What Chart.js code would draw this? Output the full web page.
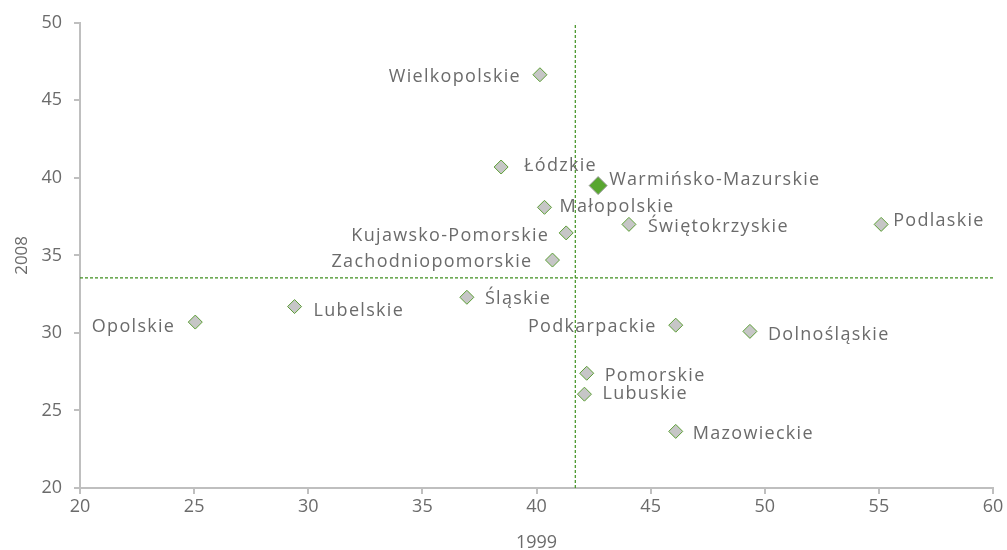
<!DOCTYPE html>
<html>
<head>
<meta charset="utf-8">
<script src="https://cdn.jsdelivr.net/npm/chart.js@4"></script>
<style>
  html, body { margin: 0; padding: 0; background: #fff; }
  #wrap { width: 1007px; height: 550px; position: relative; }
</style>
</head>
<body>
<div id="wrap"><canvas id="chart"></canvas></div>
<script>
// regions and their values in 1999 (x) and 2008 (y)
const regions = ['Wielkopolskie', 'Łódzkie', 'Warmińsko-Mazurskie', 'Małopolskie', 'Świętokrzyskie',
  'Podlaskie', 'Kujawsko-Pomorskie', 'Zachodniopomorskie', 'Śląskie', 'Lubelskie', 'Opolskie',
  'Podkarpackie', 'Dolnośląskie', 'Pomorskie', 'Lubuskie', 'Mazowieckie'];
const x1999 = [40.15, 38.45, 42.7, 40.35, 44.05, 55.1, 41.3, 40.7, 36.95, 29.4, 25.05, 46.1, 49.35, 42.2, 42.1, 46.1];
const y2008 = [46.65, 40.7, 39.5, 38.1, 37.0, 37.0, 36.45, 34.7, 32.3, 31.7, 30.7, 30.5, 30.1, 27.4, 26.05, 23.65];
const highlight = 'Warmińsko-Mazurskie';

// averages (dashed lines)
const avg1999 = 41.7;
const avg2008 = 33.55;

const xTicks = [20, 25, 30, 35, 40, 45, 50, 55, 60];
const yTicks = [20, 25, 30, 35, 40, 45, 50];

// where each label sits relative to its marker: [dx, dy] in px, negative dx = left side
const labelPlacement = {
  'Wielkopolskie': [-19, 2], 'Łódzkie': [23, -1], 'Warmińsko-Mazurskie': [11, -6],
  'Małopolskie': [15, 0], 'Świętokrzyskie': [19, 2], 'Podlaskie': [12, -4],
  'Kujawsko-Pomorskie': [-17, 3], 'Zachodniopomorskie': [-20, 2], 'Śląskie': [18, 2],
  'Lubelskie': [19, 4], 'Opolskie': [-20, 5], 'Podkarpackie': [-19, 2],
  'Dolnośląskie': [18, 3], 'Pomorskie': [18, 3], 'Lubuskie': [18, 0], 'Mazowieckie': [17, 2]
};

const FONT = '"Open Sans", sans-serif';
const TEXT = '#6b6b6b';
const AXIS = '#bfbfbf';
const GREEN_LINE = '#3f8f1f';

const points = regions.map((r, i) => ({ x: x1999[i], y: y2008[i] }));

// draws region names next to the markers (spaced out a bit, like the original Gill Sans)
const pointLabels = {
  id: 'pointLabels',
  afterDatasetsDraw(chart) {
    const ctx = chart.ctx;
    const meta = chart.getDatasetMeta(2);
    ctx.save();
    ctx.font = '18px ' + FONT;
    ctx.fillStyle = TEXT;
    ctx.textBaseline = 'middle';
    if ('letterSpacing' in ctx) ctx.letterSpacing = '1.3px';
    meta.data.forEach((pt, i) => {
      const name = regions[i];
      const [dx, dy] = labelPlacement[name] || [12, 0];
      ctx.textAlign = dx < 0 ? 'right' : 'left';
      ctx.fillText(name, pt.x + dx, pt.y + dy);
    });
    ctx.restore();
  }
};

new Chart(document.getElementById('chart'), {
  type: 'scatter',
  data: {
    datasets: [
      {
        // vertical average line
        data: [{ x: avg1999, y: 20 }, { x: avg1999, y: 50 }],
        showLine: true, borderColor: GREEN_LINE, borderWidth: 1.2, borderDash: [3, 2],
        pointRadius: 0
      },
      {
        // horizontal average line
        data: [{ x: 20, y: avg2008 }, { x: 60, y: avg2008 }],
        showLine: true, borderColor: GREEN_LINE, borderWidth: 1.2, borderDash: [3, 2],
        pointRadius: 0
      },
      {
        data: points,
        pointStyle: 'rectRot',
        pointRadius: c => regions[c.dataIndex] === highlight ? 9 : 7,
        pointBackgroundColor: c => regions[c.dataIndex] === highlight ? '#58a630' : '#c6c6c6',
        pointBorderColor: c => regions[c.dataIndex] === highlight ? '#9a9a9a' : '#5b9e35',
        pointBorderWidth: 1
      }
    ]
  },
  options: {
    responsive: true,
    maintainAspectRatio: false,
    animation: false,
    layout: { padding: { left: 0, right: 14, top: 13, bottom: 0 } },
    plugins: { legend: { display: false }, tooltip: { enabled: false } },
    scales: {
      x: {
        type: 'linear', min: 20, max: 60,
        afterBuildTicks: s => { s.ticks = xTicks.map(v => ({ value: v })); },
        afterFit: s => { s.height = 62; },
        border: { color: AXIS, width: 2 },
        grid: { display: true, drawOnChartArea: false, drawTicks: true, tickLength: 6, color: AXIS, lineWidth: 2 },
        ticks: { color: TEXT, font: { family: FONT, size: 18 }, padding: 2, maxRotation: 0 },
        title: { display: true, text: '1999', color: TEXT, font: { family: FONT, size: 18 }, padding: { top: 0, bottom: -4 } }
      },
      y: {
        type: 'linear', min: 20, max: 50,
        afterBuildTicks: s => { s.ticks = yTicks.map(v => ({ value: v })); },
        afterFit: s => { s.width = 80; },
        border: { color: AXIS, width: 2 },
        grid: { display: true, drawOnChartArea: false, drawTicks: true, tickLength: 6, color: AXIS, lineWidth: 2 },
        ticks: { color: TEXT, font: { family: FONT, size: 18 }, padding: 12 },
        title: { display: true, text: '2008', color: TEXT, font: { family: FONT, size: 17 }, padding: { top: 12, bottom: 0 } }
      }
    }
  },
  plugins: [pointLabels]
});
</script>
</body>
</html>
